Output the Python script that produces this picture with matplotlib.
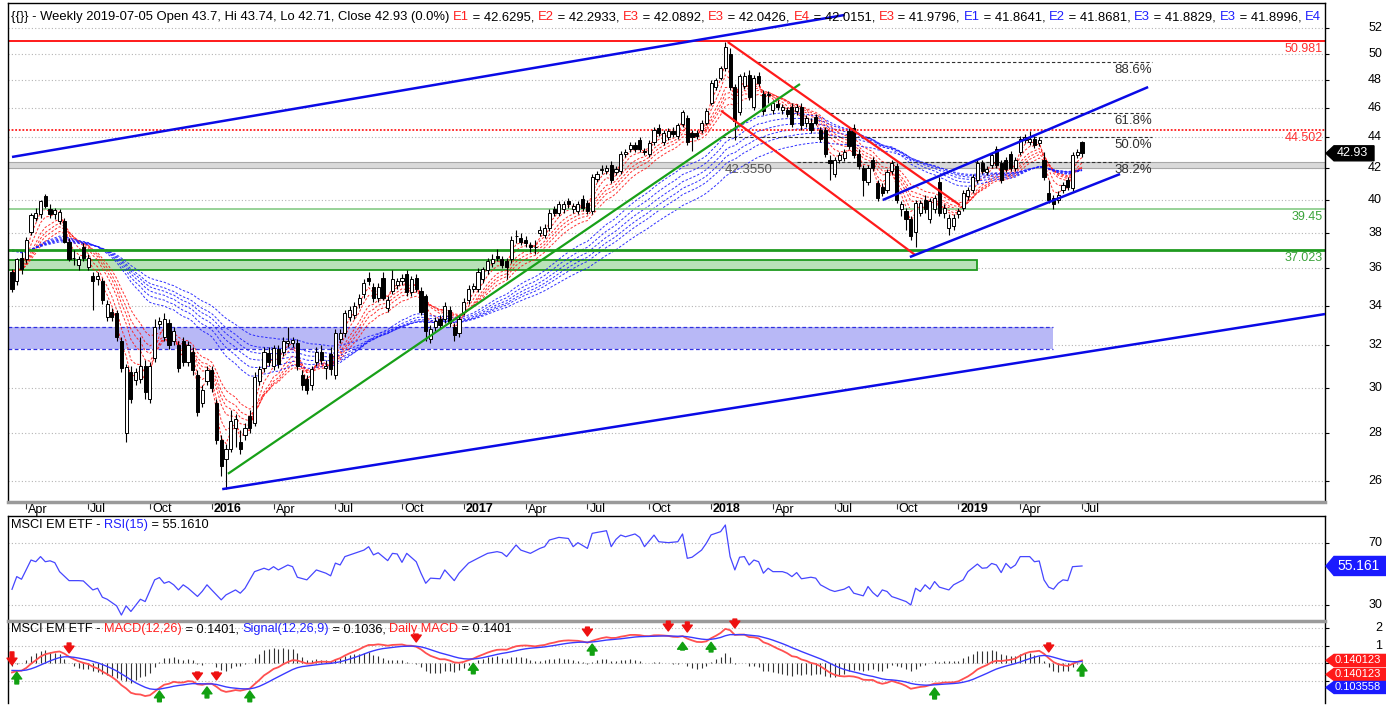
import numpy as np
import pandas as pd
import matplotlib
matplotlib.use("Agg")
import matplotlib.pyplot as plt
import matplotlib.transforms as mtransforms
from matplotlib.patches import Polygon, Rectangle
from matplotlib.ticker import FixedLocator, NullLocator, NullFormatter

plt.rcParams['font.family'] = ['Liberation Sans', 'DejaVu Sans']

# ------------------------------------------------------------------ data
last_week = '2019-07-05'

opens = [35.80, 35.30, 36.60, 36.50, 38.05, 38.90, 39.10, 40.20, 39.40, 39.10,
         38.70, 38.70, 37.50, 36.60, 36.20, 37.20, 36.10, 35.60, 35.40, 35.30,
         33.40, 33.70, 33.60, 32.20, 28.00, 30.70, 30.35, 30.40, 31.00, 29.50,
         31.40, 33.05, 32.40, 33.10, 32.20, 32.00, 32.20, 31.20, 31.70, 30.60,
         29.30, 30.30, 30.80, 29.30, 27.70, 26.90, 27.30, 28.20, 27.60, 27.90,
         28.70, 28.40, 30.30, 30.90, 31.65, 31.00, 31.80, 31.70, 32.10, 32.10,
         32.10, 30.60, 30.40, 30.10, 31.20, 31.70, 30.90, 31.60, 30.60, 32.30,
         32.60, 33.40, 33.50, 34.10, 34.60, 35.50, 35.00, 34.40, 35.50, 33.90,
         34.80, 35.10, 35.30, 35.70, 34.70, 35.50, 34.80, 34.50, 32.30, 32.90,
         33.30, 33.30, 33.80, 32.90, 32.60, 33.70, 34.30, 34.90, 34.90, 35.40,
         35.90, 36.30, 36.70, 36.50, 36.40, 36.50, 37.80, 37.70, 37.60, 37.30,
         37.20, 38.00, 37.90, 38.30, 39.40, 39.20, 39.40, 39.90, 39.40, 39.30,
         40.05, 39.80, 39.30, 41.30, 41.85, 41.80, 42.20, 41.70, 41.80, 42.90,
         43.20, 43.50, 43.80, 43.10, 42.90, 43.70, 44.60, 43.70, 44.00, 44.40,
         44.10, 44.90, 45.30, 44.30, 44.30, 44.50, 45.00, 46.40, 47.50, 48.20,
         48.90, 50.00, 47.50, 45.70, 47.60, 48.40, 46.10, 48.30, 47.00, 46.90,
         45.90, 46.30, 45.90, 45.90, 46.10, 45.80, 46.10, 45.00, 45.00, 45.40,
         44.50, 44.50, 42.50, 41.60, 42.50, 42.60, 44.40, 44.60, 42.90, 42.00,
         41.10, 42.50, 41.00, 40.80, 40.60, 41.80, 42.10, 39.40, 39.30, 38.80,
         38.05, 39.20, 40.00, 38.80, 39.40, 41.10, 39.20, 38.30, 38.40, 39.10,
         39.50, 40.20, 40.60, 41.20, 42.30, 41.70, 42.20, 43.20, 42.30, 42.50,
         42.90, 42.00, 43.00, 43.80, 43.70, 43.90, 43.60, 42.50, 40.40, 40.10,
         40.00, 40.60, 41.20, 40.70, 42.80, 43.70]

highs = [35.95, 36.60, 36.90, 37.75, 39.20, 39.50, 40.00, 40.35, 39.70, 39.50,
         39.40, 38.90, 37.70, 37.00, 36.70, 37.40, 36.80, 35.80, 35.80, 35.50,
         34.30, 33.90, 33.80, 32.40, 31.10, 31.00, 30.90, 32.40, 31.30, 31.20,
         33.30, 33.40, 33.60, 33.30, 32.90, 32.20, 32.40, 32.20, 31.90, 30.80,
         30.10, 31.00, 31.00, 29.50, 27.90, 27.50, 29.00, 28.80, 28.10, 28.40,
         29.00, 30.70, 31.00, 31.90, 31.90, 32.00, 32.00, 32.40, 32.90, 32.40,
         32.30, 30.80, 30.60, 31.00, 31.90, 32.00, 31.30, 31.90, 32.80, 32.80,
         33.80, 34.00, 34.20, 34.60, 35.40, 35.80, 35.20, 35.20, 35.80, 34.50,
         35.90, 35.50, 35.70, 35.90, 35.60, 35.70, 35.00, 34.60, 33.00, 33.40,
         33.50, 34.20, 34.00, 33.10, 33.50, 34.40, 35.10, 35.20, 36.00, 36.10,
         36.60, 36.80, 37.10, 36.70, 36.60, 37.80, 38.20, 38.00, 37.80, 37.50,
         37.60, 38.40, 38.50, 39.40, 39.60, 39.90, 39.90, 40.10, 39.80, 39.90,
         40.30, 40.00, 41.60, 41.80, 42.20, 42.20, 42.40, 42.10, 43.10, 43.20,
         43.70, 43.70, 44.00, 43.30, 43.80, 44.70, 44.90, 44.50, 44.60, 44.70,
         45.00, 45.90, 45.50, 44.50, 44.50, 45.20, 46.00, 48.00, 48.20, 49.10,
         50.90, 50.40, 47.70, 48.50, 48.60, 48.80, 48.40, 48.60, 47.30, 47.20,
         46.60, 46.60, 46.30, 46.10, 46.40, 46.30, 46.40, 45.50, 45.30, 45.60,
         44.70, 44.70, 42.80, 42.70, 43.00, 43.20, 44.70, 44.90, 43.20, 42.20,
         42.20, 42.70, 41.20, 41.00, 41.90, 42.50, 42.30, 39.90, 39.50, 39.00,
         40.00, 40.00, 40.30, 40.10, 40.30, 41.40, 39.70, 39.10, 39.10, 39.50,
         40.60, 40.80, 41.60, 42.50, 42.50, 42.10, 43.00, 43.40, 42.50, 42.70,
         43.10, 42.70, 44.10, 44.20, 44.40, 44.10, 44.00, 43.00, 41.20, 40.30,
         40.50, 41.10, 41.40, 43.00, 43.20, 43.74]

lows = [34.70, 35.10, 35.70, 36.30, 37.90, 38.70, 38.90, 39.50, 38.90, 38.80,
        38.50, 37.40, 36.40, 36.20, 35.90, 36.40, 35.90, 33.80, 35.10, 34.10,
        33.20, 33.20, 32.20, 30.70, 27.60, 29.30, 30.10, 30.20, 29.50, 29.30,
        31.20, 32.80, 32.20, 31.80, 32.00, 30.70, 31.00, 31.00, 30.60, 28.70,
        29.10, 30.10, 29.80, 27.50, 26.20, 25.70, 27.20, 27.40, 27.10, 27.70,
        28.00, 28.30, 30.10, 30.70, 31.00, 30.80, 30.90, 31.50, 31.90, 31.90,
        30.80, 29.90, 29.70, 29.90, 31.00, 31.10, 30.40, 30.60, 30.40, 32.10,
        32.40, 33.20, 33.30, 33.90, 34.40, 35.10, 34.20, 34.20, 34.30, 33.70,
        34.60, 34.90, 35.10, 34.50, 34.50, 34.70, 33.50, 32.20, 32.10, 32.70,
        32.80, 33.10, 32.90, 32.20, 32.40, 33.50, 34.10, 34.70, 34.70, 35.20,
        35.70, 36.10, 36.40, 36.00, 35.40, 36.30, 37.40, 37.30, 37.20, 36.90,
        36.80, 37.80, 37.70, 38.10, 39.00, 39.00, 39.20, 39.50, 39.20, 39.10,
        39.30, 39.10, 39.10, 41.10, 41.60, 41.60, 41.00, 41.50, 41.60, 42.70,
        43.00, 43.00, 43.00, 42.80, 42.70, 43.50, 44.10, 43.50, 43.80, 44.00,
        43.90, 44.70, 43.50, 43.10, 43.90, 44.30, 44.80, 46.20, 47.30, 48.00,
        48.70, 47.30, 43.80, 45.50, 47.40, 46.60, 45.90, 47.60, 45.50, 46.40,
        45.60, 45.90, 45.60, 45.40, 44.70, 45.50, 44.50, 44.70, 44.30, 44.80,
        43.70, 42.70, 41.20, 41.40, 42.30, 42.40, 43.20, 42.60, 41.90, 40.20,
        40.90, 41.80, 39.90, 40.20, 40.40, 41.60, 39.80, 39.00, 38.20, 37.60,
        37.20, 39.00, 39.20, 38.60, 39.20, 39.00, 38.90, 37.90, 38.20, 38.90,
        39.30, 40.00, 40.40, 41.00, 41.60, 41.50, 42.00, 42.00, 41.00, 41.70,
        41.80, 41.80, 42.80, 43.60, 43.50, 43.30, 43.40, 41.20, 39.80, 39.40,
        39.80, 40.40, 40.60, 40.50, 42.60, 42.71]

closes = [34.86, 36.50, 35.95, 37.60, 39.05, 39.20, 39.90, 39.60, 39.10, 39.35,
          39.25, 37.50, 36.50, 36.60, 36.50, 36.60, 36.60, 35.30, 35.60, 34.30,
          34.10, 33.40, 32.40, 30.90, 30.95, 29.50, 30.70, 31.00, 29.80, 31.00,
          32.90, 33.20, 33.30, 32.00, 32.70, 30.90, 31.20, 32.00, 30.80, 28.90,
          29.90, 30.80, 30.00, 27.70, 26.60, 27.30, 28.50, 28.60, 27.30, 28.20,
          28.20, 30.50, 30.85, 31.70, 31.20, 31.85, 31.10, 32.20, 32.20, 32.25,
          31.00, 30.10, 29.90, 30.85, 31.70, 31.30, 31.00, 30.85, 32.60, 32.60,
          33.60, 33.80, 34.00, 34.40, 35.20, 35.30, 34.40, 35.00, 34.40, 34.30,
          35.40, 35.30, 35.50, 34.70, 35.40, 34.90, 33.70, 32.70, 32.80, 33.20,
          33.00, 34.00, 33.10, 32.50, 33.30, 34.20, 34.90, 35.05, 35.80, 35.95,
          36.40, 36.50, 36.60, 36.20, 36.10, 37.60, 37.80, 37.50, 37.45, 37.20,
          37.20, 38.20, 38.30, 39.20, 39.20, 39.70, 39.70, 39.70, 39.60, 39.70,
          39.50, 39.30, 41.40, 41.60, 41.90, 42.00, 41.20, 41.90, 42.90, 43.00,
          43.50, 43.20, 43.20, 43.00, 43.60, 44.50, 44.30, 44.30, 44.40, 44.20,
          44.80, 45.70, 43.70, 44.00, 44.10, 45.00, 45.80, 47.80, 48.00, 48.90,
          50.50, 47.50, 45.10, 48.30, 48.30, 46.80, 48.20, 47.80, 45.80, 47.00,
          46.40, 46.10, 46.10, 45.60, 44.90, 46.10, 44.80, 45.30, 44.50, 45.00,
          43.90, 42.90, 42.30, 42.50, 42.80, 43.00, 43.40, 42.80, 42.10, 41.20,
          42.00, 42.00, 40.10, 40.40, 41.70, 42.30, 40.00, 39.70, 38.80, 37.80,
          39.80, 39.80, 39.40, 39.90, 40.10, 39.20, 39.50, 38.90, 38.90, 39.30,
          40.40, 40.60, 41.40, 42.30, 41.80, 41.90, 42.80, 42.20, 41.20, 41.90,
          42.00, 42.50, 43.90, 44.00, 43.90, 43.50, 43.80, 41.40, 40.00, 39.70,
          40.30, 40.90, 40.80, 42.80, 43.00, 42.93]

# Guppy ribbons (EMA periods) and the ribbon levels before the first bar
short_periods = [3, 5, 8, 10, 12, 15]
long_periods = [30, 35, 40, 45, 50, 60]
short_seed = 36.0
long_seed = 37.1

# RSI(15): (week index, value)
rsi_weeks = [0, 1, 2, 4, 5, 6, 7, 8, 9, 10, 12, 14, 15, 17, 18, 19, 20, 22, 23, 24,
             25, 27, 28, 30, 31, 32, 33, 34, 35, 36, 37, 39, 40, 41, 42, 44, 45, 47, 48, 49,
             51, 52, 53, 54, 55, 56, 58, 59, 60, 62, 64, 66, 67, 68, 69, 70, 72, 74, 75, 76,
             77, 79, 80, 81, 82, 83, 85, 86, 87, 88, 90, 91, 93, 94, 96, 98, 100, 102, 103, 104,
             106, 107, 109, 111, 112, 113, 115, 117, 118, 119, 121, 122, 123, 125, 126, 127, 128, 129, 131, 132,
             133, 135, 136, 138, 140, 141, 142, 143, 145, 146, 147, 149, 150, 151, 152, 153, 154, 155, 156, 157,
             158, 159, 160, 162, 163, 164, 165, 166, 168, 169, 170, 172, 173, 175, 176, 177, 179, 180, 181, 182,
             183, 184, 185, 186, 188, 189, 190, 191, 192, 193, 194, 195, 197, 198, 200, 201, 203, 204, 205, 206,
             207, 208, 209, 210, 211, 212, 214, 215, 216, 217, 218, 219, 220, 221, 222, 223, 225]
rsi_values = [40.1, 48.3, 46.6, 59.0, 57.9, 61.2, 57.9, 58.5, 57.3, 51.5, 45.7, 45.7, 45.5, 39.7, 40.8, 35.0, 33.7, 29.4, 23.5, 29.4,
              25.8, 33.7, 32.2, 46.2, 47.7, 44.0, 45.1, 43.0, 39.7, 43.0, 40.9, 35.5, 38.8, 43.0, 39.7, 33.3, 36.5, 39.7, 37.6, 40.8,
              51.5, 52.6, 53.7, 52.6, 54.7, 52.6, 55.8, 54.7, 47.9, 46.2, 52.6, 50.5, 48.8, 57.0, 55.8, 61.2, 63.3, 65.4, 67.6, 62.3,
              63.7, 58.6, 63.3, 62.9, 57.5, 63.3, 57.9, 50.5, 44.0, 47.3, 46.9, 52.6, 45.7, 50.5, 57.0, 60.2, 63.3, 64.4, 63.7, 61.2,
              68.7, 65.4, 63.3, 66.5, 67.6, 71.9, 73.6, 72.9, 67.6, 70.2, 66.5, 76.2, 76.8, 77.9, 67.6, 72.3, 75.1, 74.0, 75.8, 73.6,
              67.6, 75.1, 70.8, 70.2, 70.8, 75.8, 60.1, 60.8, 65.4, 69.8, 75.2, 77.3, 81.6, 61.2, 52.6, 60.8, 61.2, 55.8, 59.0, 57.9,
              50.5, 53.7, 51.5, 51.5, 50.5, 48.3, 50.9, 46.9, 47.9, 47.3, 43.0, 39.7, 38.7, 40.2, 41.9, 37.6, 35.9, 41.9, 38.0, 35.4,
              39.7, 38.7, 35.4, 34.4, 32.2, 30.0, 40.8, 38.7, 43.0, 40.2, 45.1, 41.5, 39.7, 43.0, 46.2, 51.5, 56.4, 53.7, 54.0, 56.8,
              55.8, 50.9, 56.8, 53.7, 55.8, 61.2, 61.2, 57.9, 58.4, 46.2, 41.5, 40.2, 44.0, 46.2, 45.7, 54.7, 55.16]

# MACD(12,26) / signal(9) periods and the EMA levels before the first bar
macd_fast, macd_slow, macd_signal = 12, 26, 9
fast_seed, slow_seed, signal_seed = 36.2, 36.65, -0.38

# crossover arrows in the MACD panel (week index, tail, tip)
sell_weeks = [0, 12, 39, 43, 85, 121, 138, 142, 152, 218]
sell_tails = [0.65, 1.16, -0.50, -0.50, 1.67, 2.07, 2.41, 2.36, 2.53, 1.16]
sell_tips = [-0.10, 0.59, -0.95, -0.95, 1.22, 1.56, 1.85, 1.79, 2.02, 0.65]
buy_weeks = [1, 31, 41, 50, 97, 122, 141, 147, 194, 225]
buy_tips = [-0.50, -1.58, -1.35, -1.58, 0.00, 1.10, 1.20, 1.20, -1.41, -0.04]
buy_tails = [-1.18, -2.20, -1.98, -2.20, -0.60, 0.47, 0.76, 0.65, -2.04, -0.73]

# horizontal levels and zones
level_top_red = 50.981
level_mid_red = 44.502
level_light_green = 39.45
level_green = 37.023
level_gray = 42.355
gray_band_low = 41.95
green_zone = (35.93, 36.47)
green_zone_end = 202.9
blue_zone = (31.82, 32.91)
blue_zone_end = 218.9

# Fibonacci retracement (swing low / high) and ratios
fib_low, fib_high = 37.0, 50.98
fib_ratios = [0.886, 0.618, 0.5, 0.382]
fib_labels = ['88.6%', '61.8%', '50.0%', '38.2%']
fib_starts = [156.6, 172.0, 149.3, 165.0]
fib_end = 239.7

# trend lines: (week, price) end points
trend_blue_top = [(0, 42.69), (175.1, 53.05)]
trend_blue_bottom = [(44.2, 25.68), (276.1, 33.57)]
trend_green = [(45.4, 26.29), (165.7, 47.73)]
channel_red_upper = [(150.5, 50.90), (199.3, 39.66)]
channel_red_lower = [(149.1, 45.82), (189.9, 36.75)]
channel_blue_upper = [(183.1, 39.97), (238.9, 47.51)]
channel_blue_lower = [(188.8, 36.63), (233.0, 41.59)]

price_ticks = list(range(26, 53, 2))

# ------------------------------------------------------------------ layout
W, H = 1386, 706
fig = plt.figure(figsize=(W / 100, H / 100), dpi=100)
fig.patch.set_facecolor('white')

L_PX, R_PX = 8, 1325


def axes_px(top, bottom):
    return [L_PX / W, 1 - bottom / H, (R_PX - L_PX) / W, (bottom - top) / H]


ax = fig.add_axes(axes_px(3, 502))
ax_rsi = fig.add_axes(axes_px(516, 620))
ax_macd = fig.add_axes(axes_px(621, 703))

n = len(closes)
weeks = np.arange(n)
dates = pd.date_range(end=last_week, periods=n, freq='W-FRI')
bar_px = 4.756
x_left = -(12 - L_PX) / bar_px
x_right = (n - 1) + (R_PX - 1082) / bar_px
for a in (ax, ax_rsi, ax_macd):
    a.set_xlim(x_left, x_right)
    for s in a.spines.values():
        s.set_color('black')
        s.set_linewidth(1.0)
    a.tick_params(axis='x', bottom=False, labelbottom=False)
    a.tick_params(axis='y', left=False, labelleft=False, right=True, labelright=False,
                  length=3, direction='out', width=0.8)

GRID = dict(color='#b4b4b4', linestyle=(0, (1, 2)), linewidth=0.8)

# ---------------- main price panel
ax.set_yscale('log')
ax.set_ylim(25.18, 54.03)
ax.yaxis.set_major_locator(FixedLocator(price_ticks))
ax.yaxis.set_minor_locator(NullLocator())
ax.yaxis.set_major_formatter(NullFormatter())
ax.yaxis.set_minor_formatter(NullFormatter())
for p in price_ticks:
    ax.axhline(p, zorder=0.5, **GRID)
ax.spines['bottom'].set_color('#9a9a9a')
ax.spines['bottom'].set_linewidth(2.5)

# zones
ax.add_patch(Rectangle((x_left, green_zone[0]), green_zone_end - x_left, green_zone[1] - green_zone[0],
                       facecolor='#b9e2b9', edgecolor='#1f9a1f', linewidth=1.3, zorder=1))
ax.add_patch(Rectangle((x_left, blue_zone[0]), blue_zone_end - x_left, blue_zone[1] - blue_zone[0],
                       facecolor='#b8b8f6', edgecolor='none', zorder=1))
for yb in blue_zone:
    ax.plot([x_left, blue_zone_end], [yb, yb], color='#3030e0', lw=0.9, ls=(0, (3, 2)), zorder=1.1)
ax.add_patch(Rectangle((x_left, gray_band_low), x_right - x_left, level_gray - gray_band_low,
                       facecolor='#d9d9d9', edgecolor='#a8a8a8', linewidth=0.8, zorder=1))

# horizontal levels
ax.axhline(level_top_red, color='#ff1a1a', lw=1.4, zorder=2.5)
ax.axhline(level_mid_red, color='#ff1a1a', lw=1.3, ls=(0, (1, 1)), zorder=2.5)
ax.axhline(level_light_green, color='#8fcf8f', lw=1.3, zorder=2.5)
ax.axhline(level_green, color='#1f9a1f', lw=2.0, zorder=2.5)

lbl_off = mtransforms.offset_copy(ax.transData, fig=fig, x=-2, y=-2, units='dots')
ax.text(x_right, level_top_red, '50.981', color='#ff3030', fontsize=9, ha='right', va='top', transform=lbl_off)
ax.text(x_right, level_mid_red, '44.502', color='#ff3030', fontsize=9, ha='right', va='top', transform=lbl_off)
ax.text(x_right, level_light_green, '39.45', color='#3aa33a', fontsize=9, ha='right', va='top', transform=lbl_off)
ax.text(x_right, level_green, '37.023', color='#3aa33a', fontsize=9, ha='right', va='top', transform=lbl_off)
ax.text(154.8, level_gray, '42.3550', color='#555555', fontsize=9.5, ha='center', va='top',
        transform=mtransforms.offset_copy(ax.transData, fig=fig, x=0, y=-2, units='dots'), zorder=6)

# Guppy ribbons
close_s = pd.Series(closes)
for per in short_periods:
    e = pd.concat([pd.Series([short_seed]), close_s]).ewm(span=per, adjust=False).mean().iloc[1:].values
    ax.plot(weeks, e, color='#ff1a1a', lw=0.7, ls=(0, (2.5, 1.8)), alpha=0.9, zorder=2)
for per in long_periods:
    e = pd.concat([pd.Series([long_seed]), close_s]).ewm(span=per, adjust=False).mean().iloc[1:].values
    ax.plot(weeks, e, color='#1a1aff', lw=0.7, ls=(0, (2.5, 1.8)), alpha=0.9, zorder=2)

# candles
o = np.array(opens); hgh = np.array(highs); lw_ = np.array(lows); c = np.array(closes)
up = c >= o
ax.vlines(weeks, lw_, hgh, color='black', lw=0.8, zorder=3)
body_lo = np.minimum(o, c)
body_h = np.abs(c - o)
ax.bar(weeks[up], body_h[up], bottom=body_lo[up], width=0.66, color='white', edgecolor='black',
       linewidth=0.7, zorder=3.5)
ax.bar(weeks[~up], body_h[~up], bottom=body_lo[~up], width=0.66, color='black', edgecolor='black',
       linewidth=0.7, zorder=3.5)

# Fibonacci levels
for r, lab, xs in zip(fib_ratios, fib_labels, fib_starts):
    lv = fib_low + r * (fib_high - fib_low)
    ax.plot([xs, fib_end], [lv, lv], color='#303030', lw=0.8, ls=(0, (3, 2)), zorder=2.6)
    ax.text(fib_end, lv, lab, color='#303030', fontsize=9.5, ha='right', va='top',
            transform=mtransforms.offset_copy(ax.transData, fig=fig, x=0, y=-2, units='dots'), zorder=6)

# trend lines
for seg, col, lw in [(trend_blue_top, '#0a0ae6', 1.8), (trend_blue_bottom, '#0a0ae6', 1.8),
                     (trend_green, '#18a018', 1.6), (channel_red_upper, '#ff1a1a', 1.6),
                     (channel_red_lower, '#ff1a1a', 1.6), (channel_blue_upper, '#0a0ae6', 1.8),
                     (channel_blue_lower, '#0a0ae6', 1.8)]:
    ax.plot([seg[0][0], seg[1][0]], [seg[0][1], seg[1][1]], color=col, lw=lw, zorder=4,
            solid_capstyle='butt')

# date labels in the strip under the price panel
tick_idx, tick_lab, tick_bold = [], [], []
for i, d in enumerate(dates):
    if d.month in (1, 4, 7, 10) and (i == 0 or dates[i - 1].month != d.month):
        tick_idx.append(i)
        tick_bold.append(d.month == 1)
        tick_lab.append(str(d.year) if d.month == 1 else d.strftime('%b'))
ax.set_xticks(tick_idx)
ax.tick_params(axis='x', bottom=True, length=5, width=0.8, color='#333333', direction='out')
strip_tr = mtransforms.offset_copy(ax.get_xaxis_transform(), fig=fig, x=2, y=-1.5, units='dots')
for i, lab, b in zip(tick_idx, tick_lab, tick_bold):
    ax.text(i, 0, lab, transform=strip_tr, ha='left', va='top', fontsize=9,
            fontweight='bold' if b else 'normal', clip_on=False)


# right axis labels
def right_labels(a, ticks, fmt):
    tr = mtransforms.blended_transform_factory(fig.transFigure, a.transData)
    for t in ticks:
        a.text(1382 / W, t, fmt(t), transform=tr, ha='right', va='center', fontsize=9, clip_on=False)


right_labels(ax, price_ticks, lambda t: f'{t}')

# ---------------- RSI panel
ax_rsi.set_ylim(20.3, 87.4)
ax_rsi.yaxis.set_major_locator(FixedLocator([30, 70]))
ax_rsi.yaxis.set_major_formatter(NullFormatter())
for g in (30, 70):
    ax_rsi.axhline(g, zorder=0.5, **GRID)
ax_rsi.spines['bottom'].set_visible(False)
ax_rsi.plot(rsi_weeks, rsi_values, color='#4646ff', lw=0.9, zorder=3)
right_labels(ax_rsi, [30, 70], lambda t: f'{t}')

# ---------------- MACD panel
s_fast = pd.concat([pd.Series([fast_seed]), close_s]).ewm(span=macd_fast, adjust=False).mean().iloc[1:]
s_slow = pd.concat([pd.Series([slow_seed]), close_s]).ewm(span=macd_slow, adjust=False).mean().iloc[1:]
macd = (s_fast - s_slow).values
signal = pd.concat([pd.Series([signal_seed]), pd.Series(macd)]).ewm(span=macd_signal, adjust=False).mean().iloc[1:].values
hist = macd - signal

ax_macd.set_ylim(-2.27, 2.42)
ax_macd.yaxis.set_major_locator(FixedLocator([-1, 0, 1, 2]))
ax_macd.yaxis.set_major_formatter(NullFormatter())
for g in (-1, 0, 1, 2):
    ax_macd.axhline(g, zorder=0.5, **GRID)
ax_macd.spines['top'].set_color('#9a9a9a')
ax_macd.spines['top'].set_linewidth(2.5)
ax_macd.spines['bottom'].set_visible(False)
ax_macd.vlines(weeks, 0, hist * 1.5, color='#333333', lw=0.8, zorder=2)
ax_macd.plot(weeks, macd, color='#ff5050', lw=1.3, zorder=3)
ax_macd.plot(weeks, signal, color='#3a3aff', lw=1.0, zorder=3.2)
right_labels(ax_macd, [1, 2], lambda t: f'{t}')

ARROW = 'simple,head_length=0.55,head_width=0.8,tail_width=0.3'
for wk, tl, tp in zip(sell_weeks, sell_tails, sell_tips):
    ax_macd.annotate('', xy=(wk, tp), xytext=(wk, tl), annotation_clip=False,
                     arrowprops=dict(arrowstyle=ARROW, color='#ee1111', mutation_scale=9,
                                     shrinkA=0, shrinkB=0))
for wk, tl, tp in zip(buy_weeks, buy_tails, buy_tips):
    ax_macd.annotate('', xy=(wk, tp), xytext=(wk, tl), annotation_clip=False,
                     arrowprops=dict(arrowstyle=ARROW, color='#11a011', mutation_scale=9,
                                     shrinkA=0, shrinkB=0))

# ---------------- titles (multi-coloured)
renderer = fig.canvas.get_renderer()


def rich_text(x_px, y_px, pieces, size):
    probe = fig.text(0, 0, '|', fontsize=size)
    wbar = probe.get_window_extent(renderer).width
    probe.remove()
    prefix = ''
    for s, col in pieces:
        w = 0.0
        if prefix:
            p = fig.text(0, 0, prefix + '|', fontsize=size)
            w = p.get_window_extent(renderer).width - wbar
            p.remove()
        fig.text((x_px + w) / W, 1 - y_px / H, s, color=col, fontsize=size, va='baseline')
        prefix += s


RED, BLUE, BLK = '#ff2020', '#2020ff', 'black'
rich_text(11, 20, [('{{}} - Weekly 2019-07-05 Open 43.7, Hi 43.74, Lo 42.71, Close 42.93 (0.0%) ', BLK),
                   ('E1', RED), (' = 42.6295, ', BLK), ('E2', RED), (' = 42.2933, ', BLK),
                   ('E3', RED), (' = 42.0892, ', BLK), ('E3', RED), (' = 42.0426, ', BLK),
                   ('E4', RED), (' = 42.0151, ', BLK), ('E3', RED), (' = 41.9796, ', BLK),
                   ('E1', BLUE), (' = 41.8641, ', BLK), ('E2', BLUE), (' = 41.8681, ', BLK),
                   ('E3', BLUE), (' = 41.8829, ', BLK), ('E3', BLUE), (' = 41.8996, ', BLK),
                   ('E4', BLUE)], 9.35)
rich_text(11, 528, [('MSCI EM ETF - ', BLK), ('RSI(15)', BLUE), (' = 55.1610', BLK)], 9.2)
rich_text(11, 632, [('MSCI EM ETF - ', BLK), ('MACD(12,26)', RED), (' = 0.1401, ', BLK),
                    ('Signal(12,26,9)', BLUE), (' = 0.1036, ', BLK), ('Daily MACD', RED),
                    (' = 0.1401', BLK)], 9.2)


# ---------------- value tags on the right axis
def tag(a, value, text, fc, dy=0, right=1395, h=14, size=9, tx=11):
    y = a.transData.transform((0, value))[1] - dy
    x0 = R_PX + 1
    pts = [(x0, y), (x0 + 8, y + h / 2), (right, y + h / 2), (right, y - h / 2), (x0 + 8, y - h / 2)]
    fig.add_artist(Polygon(pts, closed=True, facecolor=fc, edgecolor=fc,
                           transform=mtransforms.IdentityTransform(), zorder=5))
    fig.text((x0 + tx) / W, y / H, text, color='white', fontsize=size, va='center', ha='left', zorder=6)


tag(ax, closes[-1], '42.93', 'black', right=1374, h=15)
tag(ax_rsi, rsi_values[-1], '55.161', '#1a1aff', h=19, size=10)
tag(ax_macd, macd[-1], '0.140123', '#ff1a1a', dy=0, h=12, size=8, tx=9)
tag(ax_macd, macd[-1], '0.140123', '#ff1a1a', dy=14, h=12, size=8, tx=9)
tag(ax_macd, signal[-1], '0.103558', '#1a1aff', dy=26, h=12, size=8, tx=9)

fig.savefig('out.png', dpi=100, facecolor='white')
